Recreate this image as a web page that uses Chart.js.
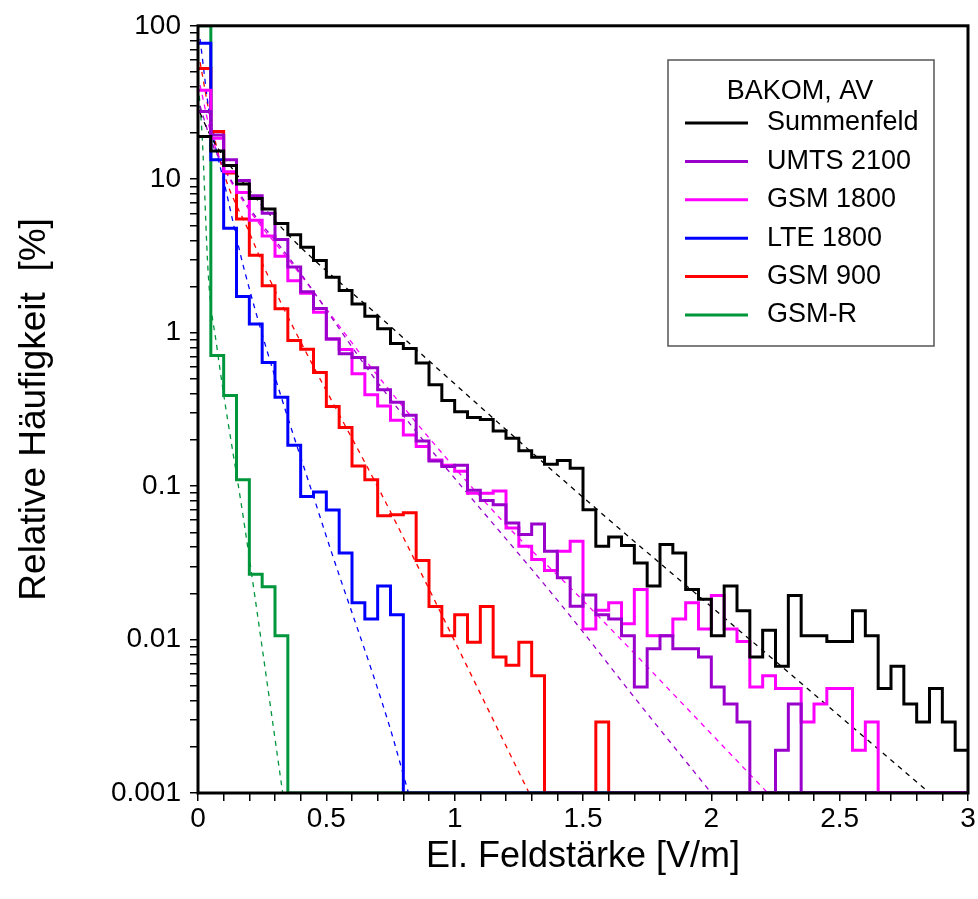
<!DOCTYPE html>
<html>
<head>
<meta charset="utf-8">
<script src="https://cdn.jsdelivr.net/npm/chart.js@4.4.1/dist/chart.umd.min.js"></script>
<style>
  html, body { margin: 0; padding: 0; background: #fff; }
</style>
</head>
<body>
<canvas id="chart" width="978" height="899"></canvas>
<script>
// histogram bins are 0.05 V/m wide, starting at 0
const binWidth = 0.05;
const xMax = 3;
const yMin = 0.001, yMax = 100;

// relative frequency [%] per bin (0 = empty bin)
const summenfeld = [19, 15.3, 12.3, 9.3, 7.5, 6.4, 5.15, 4.35, 3.6, 2.95,
  2.3, 1.88, 1.54, 1.28, 1.06, 0.85, 0.79, 0.635, 0.457, 0.362,
  0.305, 0.28, 0.272, 0.229, 0.205, 0.17, 0.154, 0.139, 0.147, 0.131,
  0.0702, 0.0405, 0.0466, 0.041, 0.0316, 0.0223, 0.0416, 0.0367, 0.0212, 0.0183,
  0.0106, 0.0223, 0.0154, 0.0077, 0.0115, 0.0067, 0.0194, 0.0106, 0.0106, 0.0097,
  0.0097, 0.0154, 0.0106, 0.0048, 0.0067, 0.0038, 0.0029, 0.0048, 0.0029, 0.0019];
const umts2100 = [27.6, 19.4, 13.4, 9.8, 7.8, 6.0, 4.05, 2.68, 1.85, 1.44,
  0.91, 0.73, 0.69, 0.59, 0.425, 0.352, 0.29, 0.197, 0.146, 0.134,
  0.137, 0.094, 0.0807, 0.0757, 0.0575, 0.0483, 0.0566, 0.0377, 0.0253, 0.0165,
  0.0195, 0.0145, 0.0136, 0.0106, 0.0049, 0.0087, 0.0106, 0.0087, 0.0087, 0.0077,
  0.0049, 0.0038, 0.0029, 0, 0, 0.0019, 0.0038];
const gsm1800 = [38, 18.5, 11.2, 8.2, 5.4, 4.26, 3.15, 2.18, 1.81, 1.36,
  0.91, 0.776, 0.54, 0.394, 0.333, 0.269, 0.215, 0.181, 0.148, 0.137,
  0.125, 0.09, 0.09, 0.093, 0.0533, 0.0406, 0.0333, 0.0282, 0.0377, 0.0437,
  0.0117, 0.0155, 0.0174, 0.0127, 0.0212, 0.0106, 0.0106, 0.0136, 0.0174, 0.0117,
  0.0194, 0.0117, 0.0097, 0.0049, 0.0058, 0.0048, 0.0048, 0.0029, 0.0038, 0.0048,
  0.0048, 0.0019, 0.0029];
const lte1800 = [77, 13.4, 4.8, 1.72, 1.14, 0.64, 0.38, 0.185, 0.0857, 0.0914,
  0.07, 0.0367, 0.0174, 0.0136, 0.0223, 0.0145];
const gsm900 = [52.6, 20.5, 11.0, 5.5, 3.2, 2.02, 1.43, 0.89, 0.78, 0.55,
  0.33, 0.241, 0.1355, 0.11, 0.064, 0.065, 0.067, 0.0328, 0.0164, 0.0106,
  0.0145, 0.0096, 0.0164, 0.0077, 0.0068, 0.0096, 0.0058, 0, 0, 0,
  0, 0.0029];
const gsmR = [100, 0.71, 0.39, 0.11, 0.0266, 0.0221, 0.0106];

// fitted curves (dashed)
const fitSummenfeldX = [0.008, 0.05, 0.1, 0.2, 0.36, 0.71, 1.45, 2.23, 2.85];
const fitSummenfeldY = [27, 19, 14, 8.5, 4.2, 1.26, 0.1, 0.0077, 0.001];
const fitUmtsX = [0.008, 0.05, 0.1, 0.2, 0.36, 0.71, 1.46, 1.71, 2.0];
const fitUmtsY = [30, 18, 12, 6.5, 3.0, 0.45, 0.0136, 0.004, 0.001];
const fitGsm1800X = [0.008, 0.05, 0.1, 0.2, 0.36, 0.71, 1.2, 1.46, 2.22];
const fitGsm1800Y = [41, 20, 12, 6.3, 2.9, 0.5, 0.056, 0.021, 0.001];
const fitLteX = [0.008, 0.047, 0.11, 0.183, 0.49, 0.744, 0.82];
const fitLteY = [82, 25, 8.3, 2.47, 0.053, 0.0028, 0.001];
const fitGsm900X = [0.008, 0.05, 0.1, 0.2, 0.27, 0.75, 1.29];
const fitGsm900Y = [58, 24, 11, 4.5, 2.4, 0.068, 0.001];
const fitGsmRX = [0.005, 0.017, 0.04, 0.073, 0.183, 0.33];
const fitGsmRY = [35, 18, 2.4, 0.82, 0.053, 0.001];

const seriesNames = ['Summenfeld', 'UMTS 2100', 'GSM 1800', 'LTE 1800', 'GSM 900', 'GSM-R'];
const seriesColors = ['#000000', '#9900CC', '#FF00FF', '#0000FF', '#FF0000', '#00963C'];

const xTickValues = [0, 0.5, 1, 1.5, 2, 2.5, 3];
const xTickLabels = ['0', '0.5', '1', '1.5', '2', '2.5', '3'];
const yTickValues = [0.001, 0.01, 0.1, 1, 10, 100];
const yTickLabels = ['0.001', '0.01', '0.1', '1', '10', '100'];

const font = '"Liberation Sans", Arial, sans-serif';

function histPoints(vals) {
  const pts = [];
  const n = Math.round(xMax / binWidth);
  for (let i = 0; i < n; i++) {
    const v = vals[i] || 0;
    pts.push({x: i * binWidth, y: v > 0 ? v : yMin});
  }
  pts.push({x: xMax, y: pts[pts.length - 1].y});
  return pts;
}
function fitPoints(xs, ys) {
  return xs.map((x, i) => ({x: x, y: ys[i]}));
}

const hists = [summenfeld, umts2100, gsm1800, lte1800, gsm900, gsmR];
const fits = [[fitSummenfeldX, fitSummenfeldY], [fitUmtsX, fitUmtsY], [fitGsm1800X, fitGsm1800Y],
  [fitLteX, fitLteY], [fitGsm900X, fitGsm900Y], [fitGsmRX, fitGsmRY]];

const datasets = [];
hists.forEach((h, i) => {
  datasets.push({
    label: seriesNames[i], data: histPoints(h), borderColor: seriesColors[i],
    borderWidth: 3, stepped: true, pointRadius: 0, fill: false
  });
});
fits.forEach((f, i) => {
  datasets.push({
    label: seriesNames[i] + ' Fit', isFit: true, data: fitPoints(f[0], f[1]),
    borderColor: seriesColors[i], borderWidth: 1.3, borderDash: [5, 5],
    cubicInterpolationMode: 'monotone', pointRadius: 0, fill: false
  });
});

// minor ticks: every 0.1 on x, 1..9 per decade on y
const xMinor = [];
for (let i = 0; i <= 30; i++) xMinor.push(i / 10);
const yMinor = [];
for (let e = -3; e <= 1; e++) {
  for (let m = 1; m <= 9; m++) yMinor.push(Number((m * Math.pow(10, e)).toPrecision(6)));
}
yMinor.push(100);

const framePlugin = {
  id: 'frame',
  afterDatasetsDraw(chart) {
    const {ctx, chartArea: a} = chart;
    ctx.save();
    ctx.strokeStyle = '#000';
    ctx.lineWidth = 3;
    ctx.strokeRect(a.left, a.top, a.right - a.left, a.bottom - a.top);
    ctx.restore();
  }
};

const boxLegend = {
  id: 'boxLegend',
  afterDraw(chart, args, o) {
    const ctx = chart.ctx;
    ctx.save();
    ctx.fillStyle = '#fff';
    ctx.fillRect(o.left, o.top, o.width, o.height);
    ctx.strokeStyle = '#555';
    ctx.lineWidth = 1.5;
    ctx.strokeRect(o.left, o.top, o.width, o.height);
    ctx.font = '27px ' + font;
    ctx.fillStyle = '#000';
    ctx.textAlign = 'center';
    ctx.textBaseline = 'middle';
    ctx.fillText(o.title, o.left + o.width / 2 - 1, o.titleY);
    ctx.textAlign = 'left';
    chart.data.datasets.filter(d => !d.isFit).forEach((d, i) => {
      const y = o.rowY + i * o.rowGap;
      ctx.strokeStyle = d.borderColor;
      ctx.lineWidth = 3;
      ctx.beginPath();
      ctx.moveTo(o.lineX0, y);
      ctx.lineTo(o.lineX1, y);
      ctx.stroke();
      ctx.fillStyle = '#000';
      ctx.fillText(d.label, o.textX, y);
    });
    ctx.restore();
  }
};

new Chart(document.getElementById('chart'), {
  type: 'line',
  data: {datasets: datasets},
  plugins: [framePlugin, boxLegend],
  options: {
    responsive: false,
    animation: false,
    events: [],
    layout: {padding: {left: 0, top: 22, right: 10, bottom: 0}},
    plugins: {
      legend: {display: false},
      tooltip: {enabled: false},
      boxLegend: {
        left: 668, top: 60, width: 266, height: 286, title: 'BAKOM, AV', titleY: 92,
        rowY: 123, rowGap: 38.4, lineX0: 685, lineX1: 748, textX: 767
      }
    },
    scales: {
      x: {
        type: 'linear', min: 0, max: xMax,
        afterBuildTicks: s => { s.ticks = xMinor.map(v => ({value: v})); },
        afterFit: s => { s.height = 106; },
        ticks: {
          autoSkip: false, maxRotation: 0, padding: 1, color: '#000',
          font: {family: font, size: 28},
          callback: v => {
            const k = xTickValues.findIndex(t => Math.abs(t - v) < 1e-9);
            return k >= 0 ? xTickLabels[k] : '';
          }
        },
        grid: {drawOnChartArea: false, drawTicks: true, tickLength: 8, color: '#000', lineWidth: 1.5},
        border: {display: false},
        title: {display: true, text: 'El. Feldstärke [V/m]', color: '#000',
          font: {family: font, size: 36}, padding: {top: 0, bottom: 20}}
      },
      y: {
        type: 'logarithmic', min: yMin, max: yMax,
        afterBuildTicks: s => { s.ticks = yMinor.map(v => ({value: v})); },
        afterFit: s => { s.width = 198; },
        ticks: {
          autoSkip: false, padding: 9, color: '#000',
          font: {family: font, size: 28},
          callback: v => {
            const k = yTickValues.findIndex(t => Math.abs(Math.log10(t) - Math.log10(v)) < 1e-9);
            return k >= 0 ? yTickLabels[k] : '';
          }
        },
        grid: {drawOnChartArea: false, drawTicks: true, tickLength: 8, color: '#000', lineWidth: 1.5},
        border: {display: false},
        title: {display: true, text: 'Relative Häufigkeit  [%]', color: '#000',
          font: {family: font, size: 37}, padding: {top: 13, bottom: 0}}
      }
    }
  }
});
</script>
</body>
</html>
